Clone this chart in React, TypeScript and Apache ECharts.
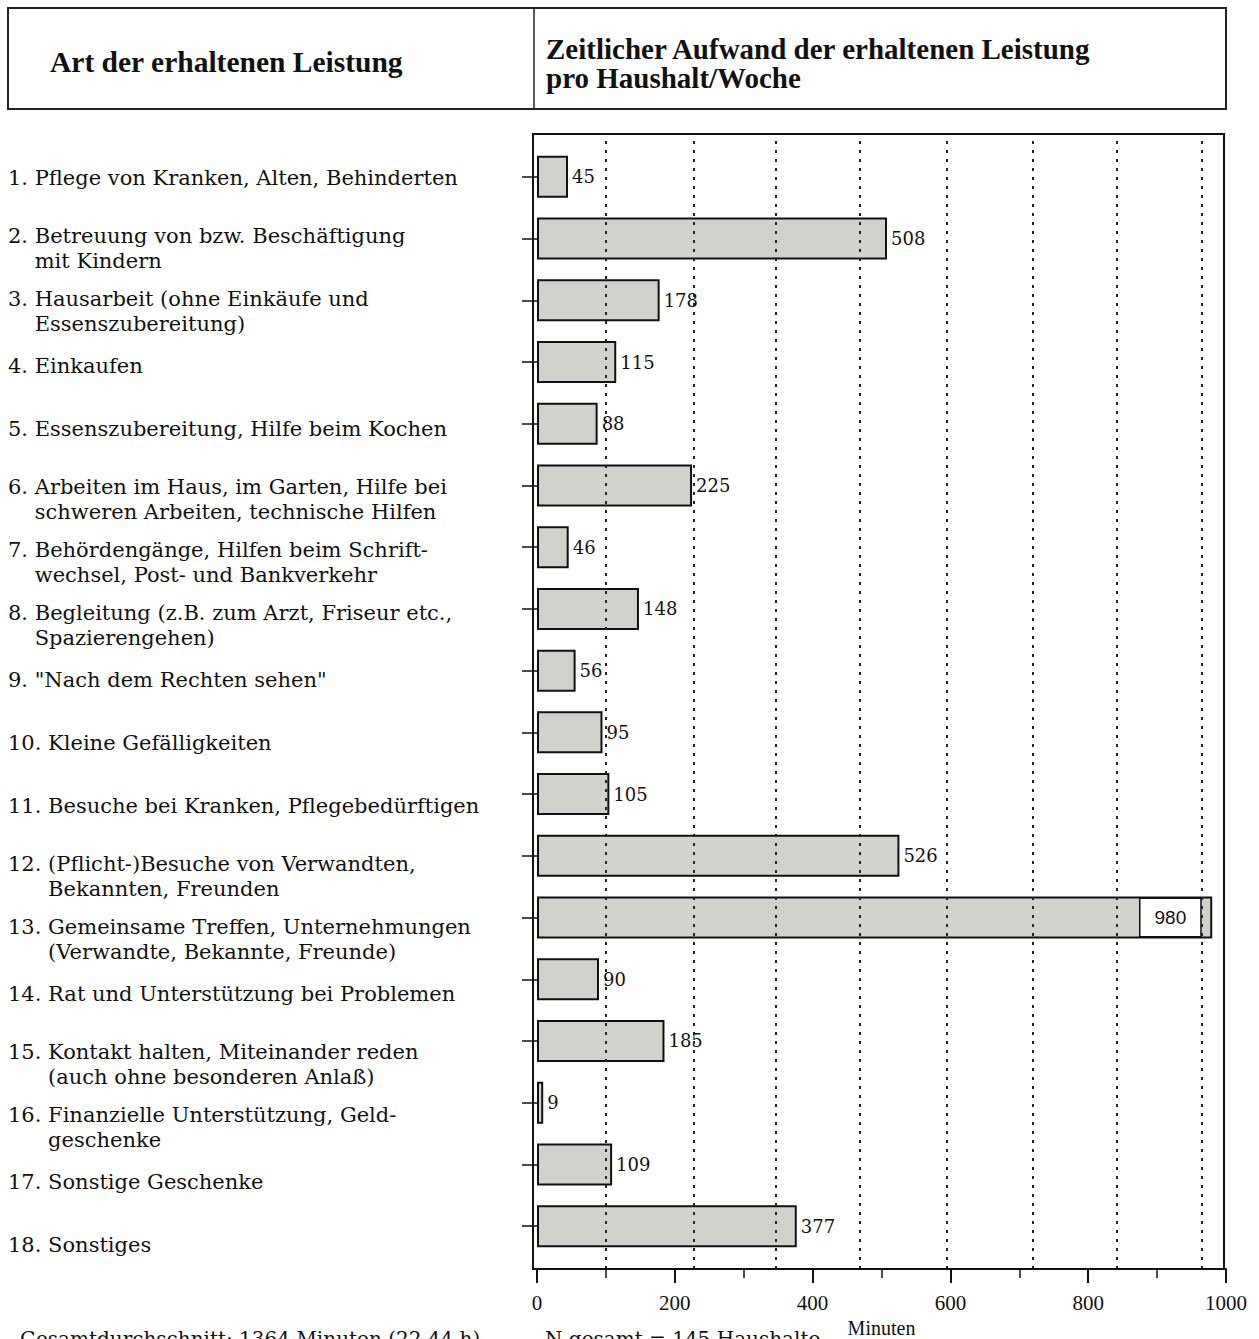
import React, { useEffect, useRef } from "react";
import * as echarts from "echarts";

const categories: string[] = [
  "1. Pflege von Kranken, Alten, Behinderten",
  "2. Betreuung von bzw. Beschäftigung\nmit Kindern",
  "3. Hausarbeit (ohne Einkäufe und\nEssenszubereitung)",
  "4. Einkaufen",
  "5. Essenszubereitung, Hilfe beim Kochen",
  "6. Arbeiten im Haus, im Garten, Hilfe bei\nschweren Arbeiten, technische Hilfen",
  "7. Behördengänge, Hilfen beim Schrift-\nwechsel, Post- und Bankverkehr",
  "8. Begleitung (z.B. zum Arzt, Friseur etc.,\nSpazierengehen)",
  '9. "Nach dem Rechten sehen"',
  "10. Kleine Gefälligkeiten",
  "11. Besuche bei Kranken, Pflegebedürftigen",
  "12. (Pflicht-)Besuche von Verwandten,\nBekannten, Freunden",
  "13. Gemeinsame Treffen, Unternehmungen\n(Verwandte, Bekannte, Freunde)",
  "14. Rat und Unterstützung bei Problemen",
  "15. Kontakt halten, Miteinander reden\n(auch ohne besonderen Anlaß)",
  "16. Finanzielle Unterstützung, Geld-\ngeschenke",
  "17. Sonstige Geschenke",
  "18. Sonstiges",
];

const minutes: number[] = [45, 508, 178, 115, 88, 225, 46, 148, 56, 95, 105, 526, 980, 90, 185, 9, 109, 377];

const xTicks = { min: 0, max: 1000, interval: 200 };
const gridLineValues: number[] = [100, 228, 347, 469, 594, 720, 842, 965];

const headerLeft = "Art der erhaltenen Leistung";
const headerRight = "Zeitlicher Aufwand der erhaltenen Leistung\npro Haushalt/Woche";
const axisName = "Minuten";
const footLeft = "Gesamtdurchschnitt: 1364 Minuten (22,44 h)";
const footRight = "N gesamt = 145 Haushalte";

const SERIF = "'DejaVu Serif', serif";
const TIMES = "'Liberation Serif', 'Times New Roman', serif";

export default function App() {
  const ref = useRef<HTMLDivElement>(null);
  useEffect(() => {
    if (!ref.current) return;
    const chart = echarts.init(ref.current, null, { renderer: "svg" });
    const maxV = Math.max(...minutes);
    const nb = "\u00a0";
    const labelFormatter = (v: string) => {
      const lines = v.split("\n");
      if (lines.length === 1) return v;
      const m = lines[0].match(/^(\d+)\./);
      const ind = m && m[1].length > 1 ? 6 : 4;
      const body = lines.map((l, i) => (i === 0 ? l : nb.repeat(ind) + l)).join("\n");
      return "{s|" + nb + "}\n" + body;
    };
    const GL = 537;
    const GW = 689;
    const option: any = {
      animation: false,
      backgroundColor: "#ffffff",
      grid: [
        { left: GL, width: GW, top: 146, height: 1111, outerBoundsMode: "none" },
        { left: 8, width: 520, top: 146.6, height: 1129.8, outerBoundsMode: "none" },
        { left: GL, width: GW, top: 134, height: 1135, outerBoundsMode: "none" },
      ],
      xAxis: [
        {
          gridIndex: 0,
          type: "value",
          min: xTicks.min,
          max: xTicks.max,
          interval: xTicks.interval,
          offset: 12,
          axisLine: { show: true, lineStyle: { color: "#111", width: 2 } },
          axisTick: { show: true, length: 14, lineStyle: { color: "#111", width: 2 } },
          minorTick: { show: true, splitNumber: 2, length: 9, lineStyle: { color: "#111", width: 1.5 } },
          splitLine: { show: false },
          minorSplitLine: { show: false },
          axisLabel: {
            margin: 23,
            fontFamily: TIMES,
            fontSize: 21,
            color: "#111",
            formatter: (v: number) => String(v),
          },
          name: axisName,
          nameLocation: "middle",
          nameGap: 47,
          nameTextStyle: { fontFamily: TIMES, fontSize: 20, color: "#111" },
        },
        { gridIndex: 1, type: "value", show: false, min: 0, max: 1 },
        { gridIndex: 2, type: "value", show: false, min: xTicks.min, max: xTicks.max },
      ],
      yAxis: [
        {
          gridIndex: 0,
          type: "category",
          inverse: true,
          data: categories,
          axisLine: { show: false },
          axisTick: { show: true, alignWithLabel: true, length: 15, lineStyle: { color: "#111", width: 1.5 } },
          axisLabel: { show: false },
        },
        {
          gridIndex: 1,
          type: "category",
          inverse: true,
          position: "left",
          data: categories,
          axisLine: { show: false },
          axisTick: { show: false },
          axisLabel: {
            show: true,
            inside: true,
            interval: 0,
            align: "left",
            verticalAlign: "middle",
            margin: 0,
            fontFamily: SERIF,
            fontSize: 21,
            lineHeight: 25,
            color: "#111",
            formatter: labelFormatter,
            rich: { s: { fontSize: 2, lineHeight: 16 } },
          },
        },
        { gridIndex: 2, type: "value", show: false, min: 0, max: 1 },
      ],
      series: [
        {
          type: "line",
          xAxisIndex: 2,
          yAxisIndex: 2,
          data: [[0, 0]],
          showSymbol: false,
          symbolSize: 0,
          lineStyle: { opacity: 0 },
          silent: true,
          z: 1,
          markLine: {
            silent: true,
            symbol: "none",
            label: { show: false },
            lineStyle: { color: "#222", width: 2, type: [3, 6] },
            data: gridLineValues.map((v) => ({ xAxis: v })),
          },
        },
        {
          type: "bar",
          xAxisIndex: 0,
          yAxisIndex: 0,
          z: 3,
          barWidth: 42,
          itemStyle: { color: "#d2d2cd", borderColor: "#111", borderWidth: 2 },
          label: {
            show: true,
            position: "right",
            distance: 4,
            fontFamily: SERIF,
            fontSize: 18,
            color: "#111",
          },
          data: minutes.map((v) =>
            v === maxV
              ? {
                  value: v,
                  label: {
                    position: "insideRight",
                    distance: 12,
                    backgroundColor: "#ffffff",
                    borderColor: "#111",
                    borderWidth: 1.5,
                    padding: [9, 14],
                    fontFamily: "'Liberation Sans', Arial, sans-serif",
                    fontSize: 19,
                    color: "#111",
                  },
                }
              : v
          ),
        },
      ],
      graphic: [
        {
          type: "rect",
          z: 10,
          shape: { x: 8, y: 8, width: 1218, height: 101 },
          style: { fill: "none", stroke: "#222", lineWidth: 2 },
        },
        {
          type: "line",
          z: 10,
          shape: { x1: 534, y1: 8, x2: 534, y2: 109 },
          style: { stroke: "#222", lineWidth: 1.5 },
        },
        {
          type: "text",
          z: 10,
          x: 50,
          y: 62,
          style: {
            text: headerLeft,
            fontFamily: TIMES,
            fontWeight: "bold",
            fontSize: 29.5,
            fill: "#111",
            verticalAlign: "middle",
          },
        },
        {
          type: "text",
          z: 10,
          x: 546,
          y: 63,
          style: {
            text: headerRight,
            fontFamily: TIMES,
            fontWeight: "bold",
            fontSize: 29,
            lineHeight: 29,
            fill: "#111",
            verticalAlign: "middle",
          },
        },
        {
          type: "rect",
          z: 10,
          shape: { x: 533, y: 134, width: 691, height: 1135 },
          style: { fill: "none", stroke: "#111", lineWidth: 2 },
        },
        {
          type: "text",
          z: 10,
          x: 20,
          y: 1329,
          style: { text: footLeft, fontFamily: SERIF, fontSize: 20, fill: "#111", verticalAlign: "top" },
        },
        {
          type: "text",
          z: 10,
          x: 545,
          y: 1329,
          style: { text: footRight, fontFamily: SERIF, fontSize: 20, fill: "#111", verticalAlign: "top" },
        },
      ],
    };
    chart.setOption(option);
    return () => chart.dispose();
  }, []);
  return (
    <div
      ref={ref}
      style={{ position: "absolute", left: 0, top: 0, width: 1259, height: 1339, background: "#fff" }}
    />
  );
}
